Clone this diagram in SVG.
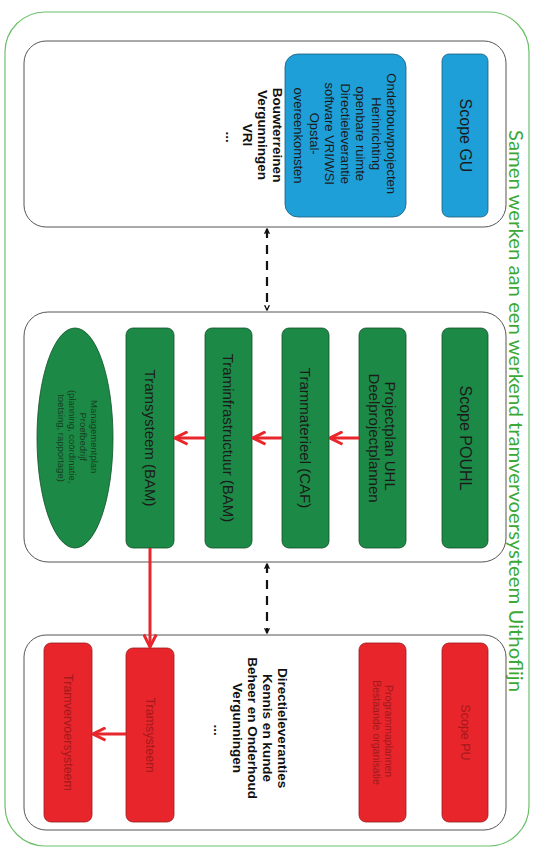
<svg xmlns="http://www.w3.org/2000/svg" width="549" height="850" viewBox="0 0 549 850">
<style>
.frame{fill:none;stroke:#6cc06a;stroke-width:1.2}
.panel{fill:#fff;stroke:#555;stroke-width:1}
.blue{fill:#1e9fd8;stroke:#1a5d7a;stroke-width:0.8}
.green{fill:#1c8a46;stroke:#0f4f27;stroke-width:0.8}
.red{fill:#e8252b;stroke:#9a1a1c;stroke-width:0.8}
.t{font-family:"Liberation Sans",Arial,sans-serif;font-size:15px;fill:#1b1b1b;text-anchor:middle;dominant-baseline:central}
.tb{font-family:"Liberation Sans",Arial,sans-serif;font-size:13.5px;font-weight:bold;fill:#111;text-anchor:middle}
.tr{font-family:"Liberation Sans",Arial,sans-serif;font-size:12.5px;fill:#a3191c;text-anchor:middle;dominant-baseline:central}
.title{font-family:Lato,"Open Sans",sans-serif;font-size:19px;fill:#3aa935;text-anchor:middle;dominant-baseline:central}
.dash{fill:none;stroke:#111;stroke-width:2.2;stroke-dasharray:9 7}
.rl{fill:none;stroke:#e8262b;stroke-width:3}
</style>
<defs>
<marker id="ah" viewBox="0 0 10 10" refX="9" refY="5" markerWidth="6" markerHeight="6" orient="auto-start-reverse" markerUnits="userSpaceOnUse">
<path d="M1,1 L9,5 L1,9" fill="none" stroke="#111" stroke-width="2.2"/>
</marker>
<marker id="rh" viewBox="0 0 12 12" refX="11" refY="6" markerWidth="15" markerHeight="15" orient="auto" markerUnits="userSpaceOnUse">
<path d="M1,1 L11,6 L1,11" fill="none" stroke="#e8262b" stroke-width="2.4"/>
</marker>
</defs>

<g id="frame">
<rect class="frame" x="5" y="12" width="524" height="834" rx="40"/>
<text class="title" transform="translate(516,411) rotate(90)" textLength="562" lengthAdjust="spacingAndGlyphs">Samen werken aan een werkend tramvervoersysteem Uithoflijn</text>
</g>

<g id="panel-gu">
<rect class="panel" x="24" y="41" width="482" height="186" rx="22"/>
</g>
<g id="scope-gu">
<rect class="blue" x="442" y="54" width="46" height="163" rx="7"/>
<text class="t" transform="translate(465,135.5) rotate(90)" style="font-size:16px">Scope GU</text>
</g>
<g id="gu-projecten">
<rect class="blue" x="285" y="54" width="121" height="163" rx="13"/>
<text class="t" transform="translate(345.5,135.5) rotate(90)" style="font-size:13px">
<tspan x="0" y="-46.5">Onderbouwprojecten</tspan>
<tspan x="0" y="-31">Herinrichting</tspan>
<tspan x="0" y="-15.5">openbare ruimte</tspan>
<tspan x="0" y="0">Directieleverantie</tspan>
<tspan x="0" y="15.5">software VRI/WSI</tspan>
<tspan x="0" y="31">Opstal-</tspan>
<tspan x="0" y="46.5">overeenkomsten</tspan>
</text>
</g>
<g id="gu-overig">
<text class="tb" transform="translate(246,137) rotate(90)">
<tspan x="0" y="-27">Bouwterreinen</tspan>
<tspan x="0" y="-12">Vergunningen</tspan>
<tspan x="0" y="3">VRI</tspan>
<tspan x="0" y="20">...</tspan>
</text>
</g>

<g id="panel-pouhl">
<rect class="panel" x="24" y="312" width="482" height="250" rx="24"/>
</g>
<g id="scope-pouhl">
<rect class="green" x="442" y="328" width="46" height="220" rx="7"/>
<text class="t" transform="translate(465,438) rotate(90)" style="font-size:16px">Scope POUHL</text>
</g>
<g id="projectplan">
<rect class="green" x="359" y="328" width="47" height="220" rx="7"/>
<text class="t" transform="translate(382.5,438) rotate(90)">
<tspan x="0" y="-8">Projectplan UHL</tspan>
<tspan x="0" y="8">Deelprojectplannen</tspan>
</text>
</g>
<g id="trammaterieel">
<rect class="green" x="282" y="328" width="47" height="220" rx="7"/>
<text class="t" transform="translate(305.5,438) rotate(90)">Trammaterieel (CAF)</text>
</g>
<g id="traminfrastructuur">
<rect class="green" x="205" y="328" width="47" height="220" rx="7"/>
<text class="t" transform="translate(228.5,438) rotate(90)">Traminfrastructuur (BAM)</text>
</g>
<g id="tramsysteem-bam">
<rect class="green" x="126" y="328" width="48" height="220" rx="7"/>
<text class="t" transform="translate(150,438) rotate(90)">Tramsysteem (BAM)</text>
</g>
<g id="managementplan">
<ellipse class="green" cx="75" cy="438" rx="38" ry="110"/>
<text class="t" transform="translate(78,438) rotate(90)" style="font-size:9.5px;fill:#14401f">
<tspan x="0" y="-16.5">Managementplan</tspan>
<tspan x="0" y="-5.5">Proefbedrijf</tspan>
<tspan x="0" y="5.5">(planning, coördinatie,</tspan>
<tspan x="0" y="16.5">toetsing, rapportage)</tspan>
</text>
</g>

<g id="panel-pu">
<rect class="panel" x="24" y="635" width="482" height="195" rx="22"/>
</g>
<g id="scope-pu">
<rect class="red" x="442" y="643" width="46" height="179" rx="7"/>
<text class="tr" transform="translate(465,732.5) rotate(90)">Scope PU</text>
</g>
<g id="pu-organisatie">
<rect class="red" x="359" y="643" width="47" height="179" rx="7"/>
<text class="tr" transform="translate(382.5,732.5) rotate(90)" style="font-size:10.5px">
<tspan x="0" y="-6">Programmaplannen</tspan>
<tspan x="0" y="6">Bestaande organisatie</tspan>
</text>
</g>
<g id="pu-overig">
<text class="tb" transform="translate(251,730) rotate(90)">
<tspan x="0" y="-27">Directieleveranties</tspan>
<tspan x="0" y="-12">Kennis en kunde</tspan>
<tspan x="0" y="3">Beheer en Onderhoud</tspan>
<tspan x="0" y="18">Vergunningen</tspan>
<tspan x="0" y="37">...</tspan>
</text>
</g>
<g id="pu-tramsysteem">
<rect class="red" x="126" y="648" width="48" height="174" rx="7"/>
<text class="tr" transform="translate(150,735) rotate(90)">Tramsysteem</text>
</g>
<g id="pu-tramvervoersysteem">
<rect class="red" x="44" y="643" width="48" height="179" rx="7"/>
<text class="tr" transform="translate(68,732.5) rotate(90)">Tramvervoersysteem</text>
</g>

<g id="connectors">
<line class="dash" x1="267" y1="229" x2="267" y2="310" marker-start="url(#ah)" marker-end="url(#ah)"/>
<line class="dash" x1="267" y1="564" x2="267" y2="633" marker-start="url(#ah)" marker-end="url(#ah)"/>
<line class="rl" x1="359" y1="438" x2="330" y2="438" marker-end="url(#rh)"/>
<line class="rl" x1="282" y1="438" x2="253" y2="438" marker-end="url(#rh)"/>
<line class="rl" x1="205" y1="438" x2="175" y2="438" marker-end="url(#rh)"/>
<line class="rl" x1="150" y1="548" x2="150" y2="647" marker-end="url(#rh)"/>
<line class="rl" x1="126" y1="734" x2="93" y2="734" marker-end="url(#rh)"/>
</g>
</svg>
